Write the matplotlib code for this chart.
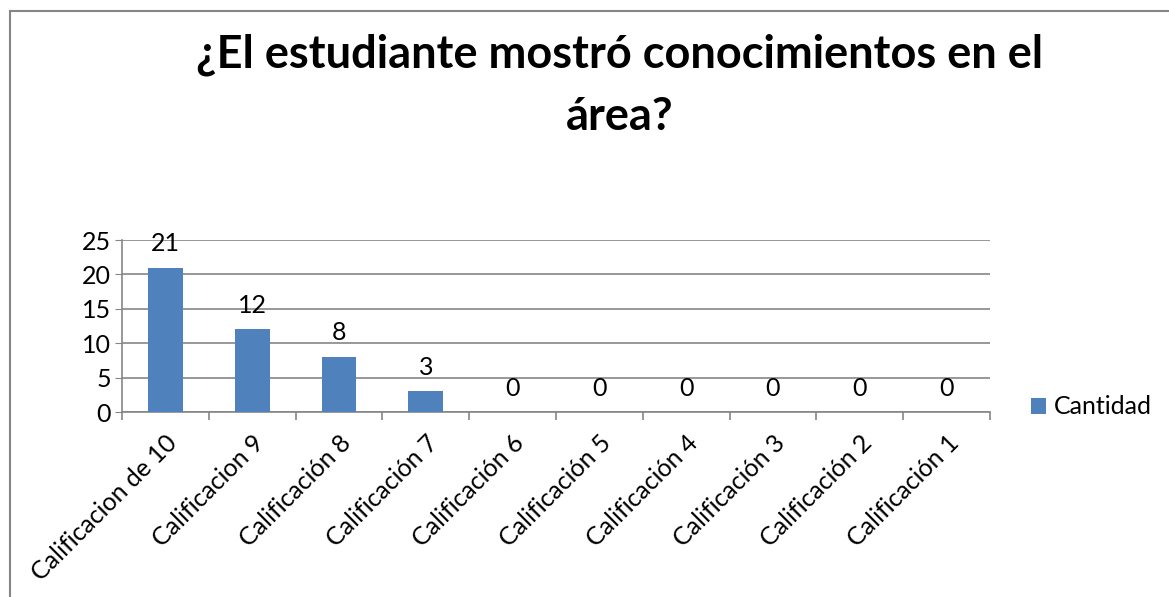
import matplotlib.pyplot as plt
from matplotlib.patches import Rectangle

categories = ["Calificacion de 10", "Calificacion 9", "Calificación 8", "Calificación 7",
              "Calificación 6", "Calificación 5", "Calificación 4", "Calificación 3",
              "Calificación 2", "Calificación 1"]
cantidad = [21, 12, 8, 3, 0, 0, 0, 0, 0, 0]
yticks = [0, 5, 10, 15, 20, 25]

plt.rcParams['font.family'] = ['Lato', 'DejaVu Sans']

W, H = 1169, 597
fig = plt.figure(figsize=(W / 100, H / 100), dpi=100)
ax = fig.add_axes([122 / W, 1 - 412 / H, (990 - 122) / W, (412 - 240) / H])

gray = "#868686"
blue = "#4f81bd"
fs = 18

x = list(range(len(categories)))
bars = ax.bar(x, cantidad, width=0.4, color=blue, label="Cantidad", zorder=3)
for xi, v in zip(x, cantidad):
    ax.annotate(str(v), (xi, v), xytext=(0, 9), textcoords="offset points",
                ha="center", va="bottom", fontsize=fs, zorder=4)

ax.set_xlim(-0.5, len(categories) - 0.5)
ax.set_ylim(0, 25)
ax.set_yticks(yticks)
ax.tick_params(axis="y", labelsize=fs, length=5, color=gray, pad=3)
ax.yaxis.grid(True, color=gray, linewidth=1.2, zorder=0)

ax.set_xticks([i - 0.5 for i in range(len(categories) + 1)])
ax.set_xticklabels([])
ax.set_xticks(x, minor=True)
ax.set_xticklabels(categories, minor=True, rotation=45, ha="right",
                   rotation_mode="anchor", fontsize=fs)
ax.tick_params(axis="x", which="major", length=6, color=gray, width=1.2)
ax.tick_params(axis="x", which="minor", length=0, pad=14)

for side in ["top", "right"]:
    ax.spines[side].set_visible(False)
for side in ["left", "bottom"]:
    ax.spines[side].set_color(gray)
    ax.spines[side].set_linewidth(1.2)

fig.legend(handles=[bars], labels=["Cantidad"], loc="center left",
           bbox_to_anchor=(1008 / W, 1 - 407 / H), frameon=False, fontsize=fs,
           handlelength=0.6, handleheight=0.6, handletextpad=0.35)

fig.text(620 / W, 1 - 86 / H, "¿El estudiante mostró conocimientos en el\nárea?",
         ha="center", va="center", fontsize=32.5, fontweight="bold", linespacing=1.6)

fig.patches.append(Rectangle((10 / W, -0.1), 1.2, 1 - 11 / H + 0.1,
                             transform=fig.transFigure, fill=False,
                             edgecolor=gray, linewidth=1.5))

fig.savefig("out.png", dpi=100)
